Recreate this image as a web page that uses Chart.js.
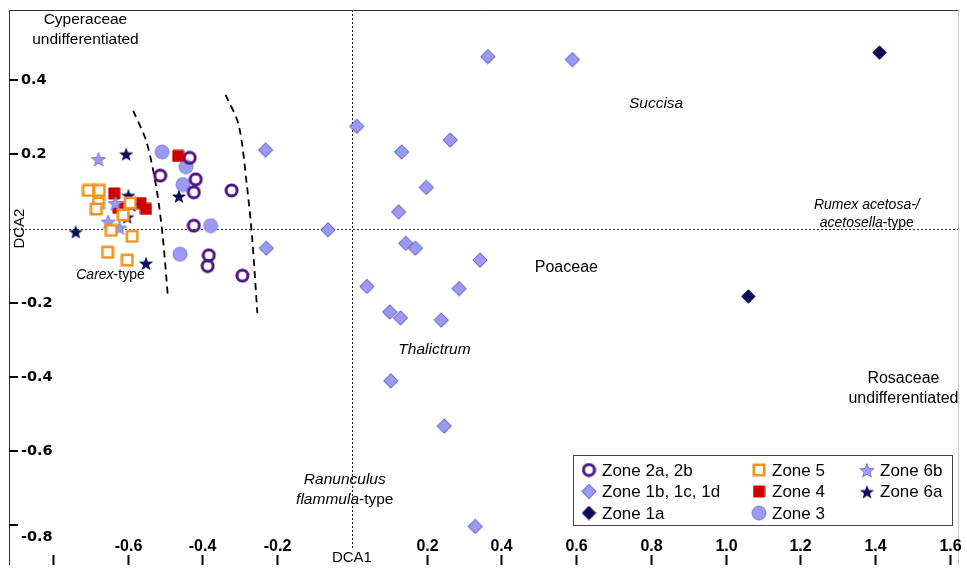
<!DOCTYPE html>
<html>
<head>
<meta charset="utf-8">
<script src="https://cdn.jsdelivr.net/npm/chart.js@4.4.1/dist/chart.umd.min.js"></script>
<style>
  body { margin: 0; background: #fff; }
  canvas { display: block; }
</style>
</head>
<body>
<canvas id="dca" width="967" height="574"></canvas>
<script>
// DCA sample scores per pollen zone, [DCA1, DCA2]
const zone2ab = [[-0.434, 0.191], [-0.513, 0.143], [-0.418, 0.133], [-0.423, 0.098], [-0.322, 0.103],
  [-0.423, 0.008], [-0.383, -0.072], [-0.386, -0.101], [-0.293, -0.127]];
const zone1bcd = [[0.364, 0.464], [0.590, 0.456], [0.013, 0.276], [0.263, 0.239], [0.133, 0.207],
  [0.199, 0.111], [0.125, 0.045], [-0.064, -0.003], [0.144, -0.040], [0.170, -0.053],
  [0.343, -0.085], [0.040, -0.156], [0.287, -0.162], [0.101, -0.225], [0.130, -0.241],
  [0.239, -0.247], [0.104, -0.411], [0.247, -0.533], [0.330, -0.804], [-0.231, 0.212], [-0.229, -0.053]];
const zone1a = [[1.412, 0.475], [1.061, -0.183]];
const zone5 = [[-0.705, 0.103], [-0.676, 0.103], [-0.678, 0.069], [-0.684, 0.053], [-0.593, 0.069],
  [-0.612, 0.037], [-0.644, -0.005], [-0.588, -0.021], [-0.654, -0.064], [-0.601, -0.085]];
const zone4 = [[-0.465, 0.196], [-0.636, 0.095], [-0.625, 0.056], [-0.566, 0.069], [-0.551, 0.053]];
const zone3 = [[-0.508, 0.207], [-0.444, 0.167], [-0.452, 0.119], [-0.378, 0.008], [-0.460, -0.069]];
const zone6b = [[-0.678, 0.188], [-0.633, 0.069], [-0.652, 0.019], [-0.622, 0.003]];
const zone6a = [[-0.604, 0.202], [-0.598, 0.090], [-0.590, 0.064], [-0.601, 0.032], [-0.739, -0.008],
  [-0.551, -0.093], [-0.463, 0.088]];

// dashed group boundaries
const boundary1 = [[-0.585, 0.318], [-0.550, 0.235], [-0.523, 0.109], [-0.506, -0.024], [-0.492, -0.188]];
const boundary2 = [[-0.338, 0.361], [-0.303, 0.280], [-0.281, 0.117], [-0.267, -0.024], [-0.253, -0.228]];

const xTicks = [-0.8, -0.6, -0.4, -0.2, 0.2, 0.4, 0.6, 0.8, 1.0, 1.2, 1.4, 1.6];
const xTickLabels = ["", "-0.6", "-0.4", "-0.2", "0.2", "0.4", "0.6", "0.8", "1.0", "1.2", "1.4", "1.6"];
const yTicks = [0.4, 0.2, -0.2, -0.4, -0.6, -0.8];
const yTickLabels = ["0.4", "0.2", "-0.2", "-0.4", "-0.6", "-0.8"];

// taxa placed in DCA space; each line is a list of [text, italic]
const taxa = [
  { x: -0.713, y: 0.565, size: 15.5, lines: [[["Cyperaceae", false]], [["undifferentiated", false]]] },
  { x: 0.814, y: 0.337, size: 15.5, lines: [[["Succisa", true]]] },
  { x: 1.378, y: 0.063, size: 14, lines: [[["Rumex acetosa-/", true]], [["acetosella", true], ["-type", false]]] },
  { x: 0.574, y: -0.104, size: 16, lines: [[["Poaceae", false]]] },
  { x: -0.646, y: -0.125, size: 14, lines: [[["Carex", true], ["-type", false]]] },
  { x: 0.221, y: -0.327, size: 15.5, lines: [[["Thalictrum", true]]] },
  { x: 1.476, y: -0.404, size: 16, lines: [[["Rosaceae", false]], [["undifferentiated", false]]] },
  { x: -0.019, y: -0.677, size: 15.5, lines: [[["Ranunculus", true]], [["flammula", true], ["-type", false]]] }
];

const SANS = '"Liberation Sans", Arial, sans-serif';

function marker(kind, size, fill, stroke, lw) {
  const c = document.createElement("canvas");
  c.width = c.height = size;
  const g = c.getContext("2d");
  const m = size / 2;
  g.beginPath();
  if (kind === "ring" || kind === "disc") {
    g.arc(m, m, m - lw / 2 - 0.5, 0, Math.PI * 2);
  } else if (kind === "diamond") {
    const r = m - lw / 2 - 0.3;
    g.moveTo(m, m - r); g.lineTo(m + r, m); g.lineTo(m, m + r); g.lineTo(m - r, m); g.closePath();
  } else if (kind === "square") {
    const h = m - lw / 2 - 0.5;
    g.rect(m - h, m - h, h * 2, h * 2);
  } else if (kind === "star") {
    const ro = m - 0.5, ri = ro * 0.42;
    for (let i = 0; i < 10; i++) {
      const r = i % 2 ? ri : ro;
      const a = -Math.PI / 2 + i * Math.PI / 5;
      const px = m + r * Math.cos(a), py = m + 1 + r * Math.sin(a);
      i ? g.lineTo(px, py) : g.moveTo(px, py);
    }
    g.closePath();
  }
  if (fill) { g.fillStyle = fill; g.fill(); }
  if (stroke && lw) { g.lineWidth = lw; g.strokeStyle = stroke; g.stroke(); }
  return c;
}

const mk = {
  ring: marker("ring", 15, null, "#4c1580", 3),
  lightDiamond: marker("diamond", 16, "#9a9af5", "#4f4fa8", 1),
  darkDiamond: marker("diamond", 15, "#0c0c58", "#0c0c58", 1),
  openSquare: marker("square", 14, "#fff", "#f0941f", 2.6),
  redSquare: marker("square", 13, "#d00000", "#c00000", 1),
  disc: marker("disc", 16, "#9a9af5", "#8080e0", 1),
  lightStar: marker("star", 16, "#9a9af5", "#7070c8", 0.8),
  darkStar: marker("star", 16, "#0c0c58", null, 0)
};

const pts = arr => arr.map(p => ({ x: p[0], y: p[1] }));
const pointSet = (label, arr, img) => ({
  label, data: pts(arr), pointStyle: img, pointRadius: img.width / 2,
  showLine: false
});
const curve = arr => ({
  type: "line", label: "", data: pts(arr), showLine: true, pointRadius: 0,
  borderColor: "#000", borderWidth: 1.8, borderDash: [7, 5], tension: 0.3, fill: false
});

// drawn top-most first
const datasets = [
  pointSet("Zone 5", zone5, mk.openSquare),
  pointSet("Zone 6b", zone6b, mk.lightStar),
  pointSet("Zone 6a", zone6a, mk.darkStar),
  pointSet("Zone 4", zone4, mk.redSquare),
  pointSet("Zone 2a, 2b", zone2ab, mk.ring),
  pointSet("Zone 3", zone3, mk.disc),
  pointSet("Zone 1b, 1c, 1d", zone1bcd, mk.lightDiamond),
  pointSet("Zone 1a", zone1a, mk.darkDiamond),
  curve(boundary1),
  curve(boundary2)
];

// legend grid, column by column
const legendCols = [
  [["Zone 2a, 2b", mk.ring], ["Zone 1b, 1c, 1d", mk.lightDiamond], ["Zone 1a", mk.darkDiamond]],
  [["Zone 5", mk.openSquare], ["Zone 4", mk.redSquare], ["Zone 3", mk.disc]],
  [["Zone 6b", mk.lightStar], ["Zone 6a", mk.darkStar]]
];

function drawSegments(ctx, segs, cx, cy, size) {
  const fonts = segs.map(s => (s[1] ? "italic " : "") + size + "px " + SANS);
  let total = 0;
  const widths = segs.map((s, i) => { ctx.font = fonts[i]; const w = ctx.measureText(s[0]).width; total += w; return w; });
  let x = cx - total / 2;
  ctx.textAlign = "left";
  ctx.textBaseline = "middle";
  segs.forEach((s, i) => { ctx.font = fonts[i]; ctx.fillText(s[0], x, cy); x += widths[i]; });
}

const decor = {
  id: "decor",
  beforeDatasetsDraw(chart) {
    const { ctx, chartArea: a, scales: { x, y } } = chart;
    const x0 = x.getPixelForValue(0), y0 = y.getPixelForValue(0);
    ctx.save();
    ctx.strokeStyle = "#222";
    ctx.lineWidth = 1;
    ctx.setLineDash([2, 2]);
    ctx.beginPath();
    ctx.moveTo(a.left, Math.round(y0) + 0.5); ctx.lineTo(a.right, Math.round(y0) + 0.5);
    ctx.moveTo(Math.round(x0) + 0.5, a.top); ctx.lineTo(Math.round(x0) + 0.5, a.bottom - 17);
    ctx.stroke();
    ctx.setLineDash([]);

    // frame
    ctx.strokeStyle = "#333";
    ctx.beginPath();
    ctx.moveTo(a.left + 0.5, a.bottom); ctx.lineTo(a.left + 0.5, a.top + 0.5); ctx.lineTo(a.right, a.top + 0.5);
    ctx.stroke();
    ctx.strokeStyle = "#c8c8c8";
    ctx.beginPath();
    ctx.moveTo(a.right + 0.5, a.top); ctx.lineTo(a.right + 0.5, a.bottom);
    ctx.stroke();

    // y ticks, inside the frame
    ctx.strokeStyle = "#000";
    ctx.lineWidth = 2;
    ctx.fillStyle = "#000";
    ctx.font = 'bold 14.5px "DejaVu Sans", sans-serif';
    ctx.textAlign = "left";
    ctx.textBaseline = "middle";
    yTicks.forEach((v, i) => {
      const py = Math.round(y.getPixelForValue(v));
      ctx.beginPath(); ctx.moveTo(a.left, py); ctx.lineTo(a.left + 9, py); ctx.stroke();
      ctx.fillText(yTickLabels[i], a.left + 12, py + (v < -0.7 ? 12 : 0));
    });

    // x ticks along the bottom edge
    ctx.font = 'bold 16px "Liberation Sans Narrow", "Liberation Sans", sans-serif';
    ctx.textAlign = "center";
    xTicks.forEach((v, i) => {
      const px = Math.round(x.getPixelForValue(v)) + 0.5;
      ctx.beginPath(); ctx.moveTo(px, a.bottom - 10); ctx.lineTo(px, a.bottom); ctx.stroke();
      if (xTickLabels[i]) ctx.fillText(xTickLabels[i], px, a.bottom - 18);
    });

    // axis titles
    ctx.font = "15px " + SANS;
    ctx.fillText("DCA1", x0, a.bottom - 7);
    ctx.save();
    ctx.translate(a.left + 10, y0);
    ctx.rotate(-Math.PI / 2);
    ctx.fillText("DCA2", 0, 1);
    ctx.restore();

    // taxa names
    taxa.forEach(t => {
      const cx = x.getPixelForValue(t.x), cy = y.getPixelForValue(t.y);
      const lh = t.size * 1.3;
      t.lines.forEach((segs, k) => drawSegments(ctx, segs, cx, cy + k * lh, t.size));
    });
    ctx.restore();
  },
  afterDraw(chart) {
    const { ctx } = chart;
    ctx.save();
    ctx.fillStyle = "#fff";
    ctx.fillRect(573, 455, 379, 70);
    ctx.strokeStyle = "#444";
    ctx.lineWidth = 1;
    ctx.strokeRect(573.5, 455.5, 379, 70);
    ctx.fillStyle = "#000";
    ctx.font = "17px " + SANS;
    ctx.textAlign = "left";
    ctx.textBaseline = "middle";
    const colX = [589, 759, 867];
    const rowY = [470, 491.5, 513];
    legendCols.forEach((col, ci) => col.forEach((e, ri) => {
      const img = e[1];
      ctx.drawImage(img, colX[ci] - img.width / 2, rowY[ri] - img.height / 2);
      ctx.fillText(e[0], colX[ci] + 13, rowY[ri] + 1);
    }));
    ctx.restore();
  }
};

new Chart(document.getElementById("dca"), {
  type: "scatter",
  data: { datasets },
  options: {
    responsive: false,
    animation: false,
    events: [],
    layout: { padding: { left: 8, top: 10, right: 4, bottom: 0 } },
    scales: {
      x: { type: "linear", display: false, min: -0.9176, max: 1.622 },
      y: { type: "linear", display: false, min: -0.908, max: 0.590 }
    },
    plugins: { legend: { display: false }, tooltip: { enabled: false } }
  },
  plugins: [decor]
});
</script>
</body>
</html>
